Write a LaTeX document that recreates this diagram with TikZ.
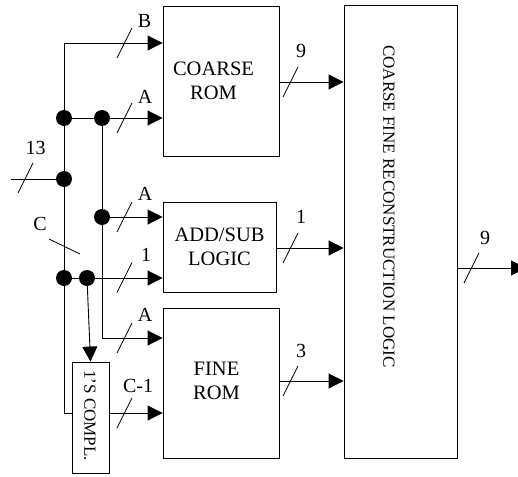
\documentclass[tikz,border=0pt]{standalone}
\usepackage{fontspec}
\setmainfont{Liberation Serif}
\usetikzlibrary{arrows.meta}
\tikzset{
  blk/.style={draw, line width=0.9pt, inner sep=0pt, minimum width=#1},
  wire/.style={line width=0.9pt},
  arr/.style={wire, -{Triangle[length=15pt,width=15pt]}},
  jdot/.style={circle, fill=black, inner sep=0pt, minimum size=16pt},
  lbl/.style={inner sep=0pt, font=\fontsize{20.5}{23.5}\selectfont, align=center},
  buslbl/.style={inner sep=0pt, font=\fontsize{20}{22}\selectfont},
  busmark/.style={line width=0.8pt},
}
\begin{document}
\begin{tikzpicture}[x=1pt,y=-1pt]
\useasboundingbox (0,0) rectangle (518,476);
% blocks
\node[blk=116, minimum height=150] (coarse) at (221,81) {};
\node[blk=113, minimum height=90] (addsub) at (219.5,247) {};
\node[blk=116, minimum height=150] (fine) at (221,383) {};
\node[blk=113, minimum height=453] (recon) at (400.5,231.5) {};
\node[draw, line width=0.9pt, inner sep=0pt, minimum width=111, minimum height=37, rotate=-90] (compl) at (90.5,417.5) {};
% block texts
\node[lbl, anchor=north] (tcoarse) at (213.5,62) {COARSE\\ROM};
\node[lbl, anchor=north] (taddsub) at (219.5,228) {ADD/SUB\\LOGIC};
\node[lbl, anchor=north] (tfine) at (216.5,362) {FINE\\ROM};
\node[inner sep=0pt, rotate=-90, anchor=west, font=\fontsize{17}{20}\selectfont] (trecon) at (389,45) {COARSE FINE RECONSTRUCTION LOGIC};
\node[inner sep=0pt, rotate=-90, font=\fontsize{17}{20}\selectfont] (tcompl) at (90,415.5) {1'S COMPL.};
% junctions
\coordinate (top) at (64,43);
\node[jdot] (j1) at (64,118) {};
\node[jdot] (j2) at (102,118) {};
\node[jdot] (j13) at (64,179) {};
\node[jdot] (j3) at (102,217) {};
\node[jdot] (j4) at (64,278) {};
\node[jdot] (j5) at (87,278) {};
\coordinate (bot) at (64,413);
\coordinate (fa) at (102,338);
\coordinate (in13) at (11,179);
\coordinate (out) at (526,268);
% wires
\draw[wire] (in13) -- (j13.center);
\draw[wire] (top) -- (bot) -- (compl.south |- bot);
\draw[arr] (top) -- (coarse.west |- top);
\draw[wire] (j1.center) -- (j2.center);
\draw[arr] (j2.center) -- (coarse.west |- j2);
\draw[wire] (j2.center) -- (fa);
\draw[arr] (fa) -- (fine.west |- fa);
\draw[arr] (j3.center) -- (addsub.west |- j3);
\draw[wire] (j4.center) -- (j5.center);
\draw[arr] (j5.center) -- (addsub.west |- j5);
\draw[arr] (j5.center) -- (compl.west);
\draw[arr] (compl.north |- bot) -- (fine.west |- bot);
\draw[arr] (coarse.east |- 0,82) -- (recon.west |- 0,82);
\draw[arr] (addsub.east |- 0,248) -- (recon.west |- 0,248);
\draw[arr] (fine.east |- 0,381) -- (recon.west |- 0,381);
\draw[arr] (recon.east |- out) -- (out);
% bus width marks
\foreach \x/\y in {124.5/43, 124.5/118, 25.5/178, 124.5/217, 124.5/277.5, 124.5/338, 124.5/413, 290.5/82, 290.5/248, 290.5/381, 471.5/268}
  \draw[busmark] (\x-7.5,\y+15) -- (\x+7.5,\y-15);
\draw[busmark] (49,239) -- (80,254);
% bus labels
\node[buslbl] (lB) at (144.5,21) {B};
\node[buslbl] (lA1) at (145,96.5) {A};
\node[buslbl] (l13) at (35.5,148) {13};
\node[buslbl] (lA2) at (145,194) {A};
\node[buslbl] (lC) at (40,224) {C};
\node[buslbl] (l1) at (146,255) {1};
\node[buslbl] (lA3) at (145,315) {A};
\node[buslbl] (lCm) at (138,386) {C-1};
\node[buslbl] (l9) at (301,51) {9};
\node[buslbl] (l1r) at (301,217) {1};
\node[buslbl] (l3) at (301,351) {3};
\node[buslbl] (l9o) at (485,238) {9};
\end{tikzpicture}
\end{document}
